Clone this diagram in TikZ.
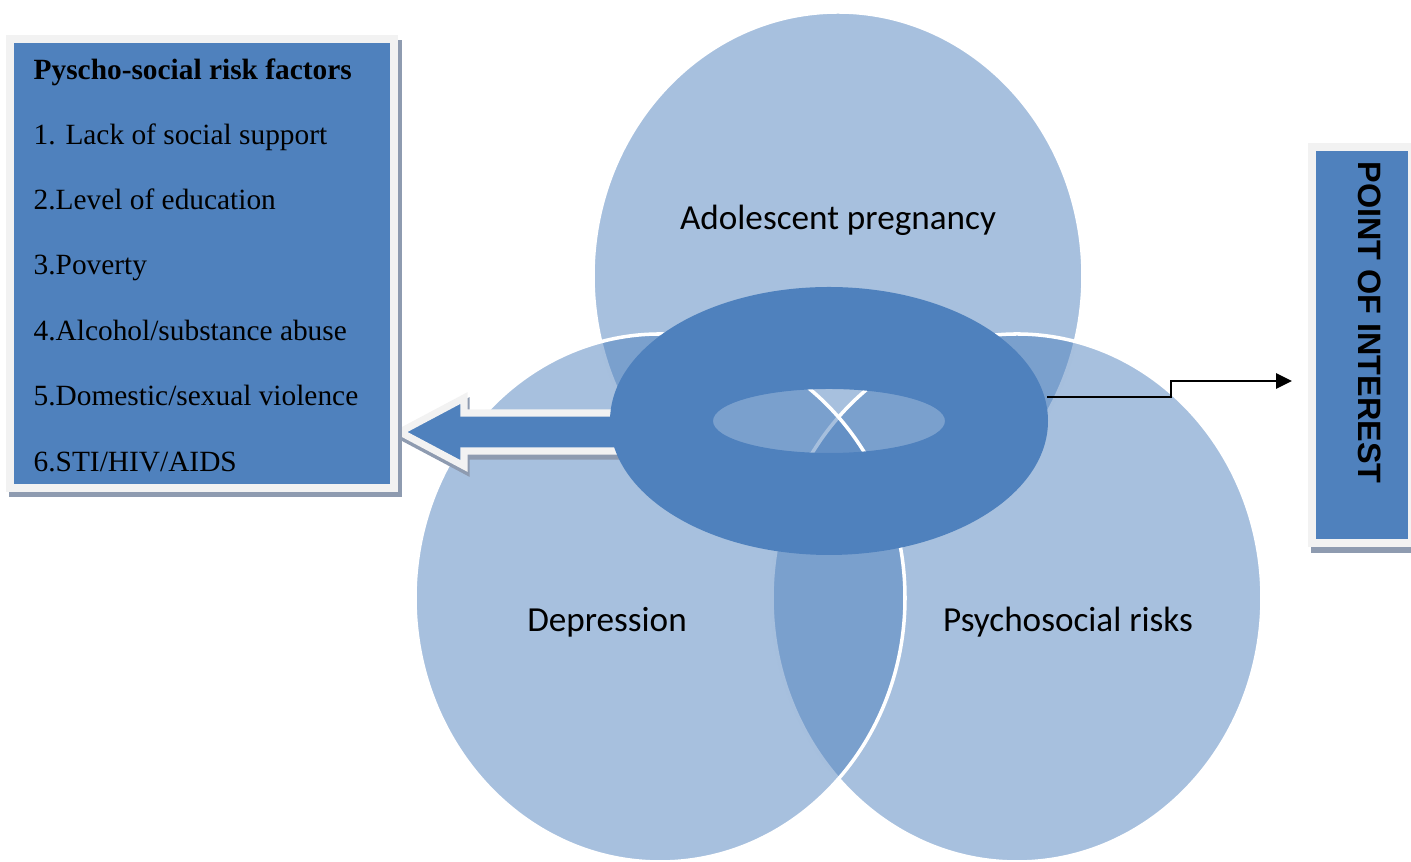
\documentclass[tikz,border=0pt]{standalone}
\usepackage{fontspec}
\setmainfont{Liberation Serif}
\newfontfamily\calibrifont{Carlito}
\newfontfamily\arialfont{Liberation Sans}
\usetikzlibrary{arrows.meta}
\definecolor{accblue}{HTML}{4F81BD}
\definecolor{framegray}{HTML}{F2F2F2}
\definecolor{shadowgray}{HTML}{8E9BB0}

\begin{document}
\begin{tikzpicture}[x=0.01cm, y=-0.01cm,
  venn/.style={fill=accblue, fill opacity=0.5, draw=white, line width=1pt},
  vennlabel/.style={anchor=base, inner sep=0pt, font=\calibrifont\fontsize{10}{12}\selectfont},
  factor/.style={anchor=base west, inner sep=0pt, font=\fontsize{8.35}{10}\selectfont},
  conn/.style={-{Triangle[length=4.5pt,width=4.3pt]}, line width=0.6pt}]
\useasboundingbox (0,0) rectangle (1411,862);

% three circles
\draw[venn] (838,276) ellipse [x radius=245, y radius=264];
\draw[venn] (1017,598) ellipse [x radius=245, y radius=264];
\draw[venn] (660,598) ellipse [x radius=245, y radius=264];

\node[vennlabel] (pregnancy) at (838,230) {Adolescent pregnancy};
\node[vennlabel] (depression) at (607,632) {Depression};
\node[vennlabel] (psychosocial) at (1068,632) {Psychosocial risks};

% block arrow to the factor box
\begin{scope}[shift={(2,5)}]
\draw[shadowgray, fill=shadowgray, line width=2pt] (400,432) -- (464,398) -- (464,413) -- (620,413) -- (620,451) -- (464,451) -- (464,466) -- cycle;
\end{scope}
\draw[fill=accblue, draw=framegray, line width=2pt] (400,432) -- (464,398) -- (464,413) -- (620,413) -- (620,451) -- (464,451) -- (464,466) -- cycle;

% ring
\fill[accblue, even odd rule] (829,421) ellipse [x radius=219, y radius=134] (829,421) ellipse [x radius=116, y radius=32];
\coordinate (ringout) at (1047,397);

% factor box
\fill[shadowgray] (9,40) rectangle (402,497);
\fill[framegray] (6,35) rectangle (398,492);
\fill[accblue] (14,43) rectangle (390,484);
\node[factor, font=\bfseries\fontsize{8.35}{10}\selectfont] (title) at (33,80) {Pyscho-social risk factors};
\node[factor] (item1) at (33,145) {1. Lack of social support};
\node[factor] (item2) at (33,210) {2.Level of education};
\node[factor] (item3) at (33,275) {3.Poverty};
\node[factor] (item4) at (33,341) {4.Alcohol/substance abuse};
\node[factor] (item5) at (33,406) {5.Domestic/sexual violence};
\node[factor] (item6) at (33,472) {6.STI/HIV/AIDS};

% point of interest box
\fill[shadowgray] (1311,150) rectangle (1415,553);
\fill[framegray] (1308,143) rectangle (1415,547);
\fill[accblue] (1316,151) rectangle (1408,539);
\node[rotate=-90, anchor=west, inner sep=0pt, font=\arialfont\bfseries\fontsize{9.2}{11}\selectfont] (interest) at (1370,161) {POINT OF INTEREST};
\coordinate (interestin) at (1292,381);

\draw[conn] (ringout) -- (1171,397) |- (interestin);
\end{tikzpicture}
\end{document}
